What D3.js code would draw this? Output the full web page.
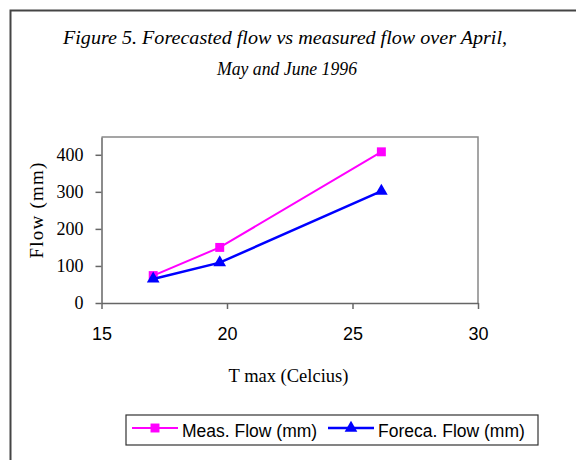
<!DOCTYPE html>
<html>
<head>
<meta charset="utf-8">
<script src="https://cdn.jsdelivr.net/npm/d3@7"></script>
<style>
  html, body { margin: 0; padding: 0; background: #fff; }
  svg { display: block; }
</style>
</head>
<body>
<svg id="chart" width="576" height="460"></svg>
<script>
// Monthly maximum temperature (April, May, June 1996) and flows
const tmax = [17.06, 19.71, 26.15];
const measuredFlow = [74, 150, 408];
const forecastFlow = [65, 109, 302];
const xTicks = [15, 20, 25, 30];
const yTicks = [0, 100, 200, 300, 400];
const titleLines = ["Figure 5. Forecasted flow vs measured flow over April,", "May and June 1996"];
const seriesNames = ["Meas. Flow (mm)", "Foreca. Flow (mm)"];

const svg = d3.select("#chart");
const serif = "Liberation Serif, Times New Roman, serif";
const sans = "Liberation Sans, Arial, sans-serif";

// outer frame
svg.append("rect")
  .attr("x", 10.5).attr("y", 10.5)
  .attr("width", 580).attr("height", 470)
  .attr("fill", "none").attr("stroke", "#444").attr("stroke-width", 2);

// title, two centred lines
const titleX = [285, 287];
const titleY = [44, 75];
const titleLen = [444, 140];
svg.selectAll("text.title").data(titleLines).join("text")
  .attr("class", "title")
  .attr("x", (d, i) => titleX[i]).attr("y", (d, i) => titleY[i])
  .attr("text-anchor", "middle")
  .attr("font-family", serif)
  .attr("font-style", "italic")
  .attr("font-size", 19.5)
  .attr("textLength", (d, i) => titleLen[i])
  .attr("lengthAdjust", "spacingAndGlyphs")
  .text(d => d);

const plot = { left: 101.5, right: 478, top: 137, bottom: 303 };
const x = d3.scaleLinear().domain([15, 30]).range([plot.left, plot.right]);
const y = d3.scaleLinear().domain([0, 448]).range([plot.bottom, plot.top]);

// top and right border of the plot area
svg.append("path")
  .attr("d", `M${plot.left},${plot.top}H${plot.right}V${plot.bottom}`)
  .attr("fill", "none").attr("stroke", "#888").attr("stroke-width", 1.5);

// x axis
const xAxis = svg.append("g")
  .attr("transform", `translate(0,${plot.bottom})`)
  .call(d3.axisBottom(x).tickValues(xTicks).tickSize(6).tickSizeOuter(0).tickPadding(18));
xAxis.select(".domain").attr("stroke", "#666").attr("stroke-width", 1.5);
xAxis.selectAll(".tick line").attr("stroke", "#666").attr("stroke-width", 1.5);
xAxis.selectAll(".tick text")
  .attr("font-family", sans)
  .attr("font-size", 18).attr("fill", "#000");

// y axis
const yAxis = svg.append("g")
  .attr("transform", `translate(${plot.left},0)`)
  .call(d3.axisLeft(y).tickValues(yTicks).tickSize(6).tickSizeOuter(0).tickPadding(12));
yAxis.select(".domain").attr("stroke", "#666").attr("stroke-width", 1.5);
yAxis.selectAll(".tick line").attr("stroke", "#666").attr("stroke-width", 1.5);
yAxis.selectAll(".tick text")
  .attr("font-family", serif)
  .attr("font-size", 18).attr("fill", "#000");

// axis titles
svg.append("text")
  .attr("x", 288.5).attr("y", 382)
  .attr("text-anchor", "middle")
  .attr("font-family", serif)
  .attr("font-size", 18.5)
  .text("T max (Celcius)");

svg.append("text")
  .attr("transform", "translate(43,210) rotate(-90)")
  .attr("text-anchor", "middle")
  .attr("font-family", serif)
  .attr("font-size", 19)
  .attr("letter-spacing", 1.2)
  .text("Flow (mm)");

// series
const series = [
  { name: seriesNames[0], values: measuredFlow, color: "#ff00ff", shape: d3.symbolSquare, size: 80, width: 2 },
  { name: seriesNames[1], values: forecastFlow, color: "#0000ff", shape: d3.symbolTriangle, size: 70, width: 2.5 }
];

const line = d3.line().x(d => x(d[0])).y(d => y(d[1]));

series.forEach(s => {
  const pts = tmax.map((t, i) => [t, s.values[i]]);
  svg.append("path")
    .attr("d", line(pts))
    .attr("fill", "none").attr("stroke", s.color).attr("stroke-width", s.width);
  svg.selectAll(null).data(pts).join("path")
    .attr("transform", d => `translate(${x(d[0])},${y(d[1])})`)
    .attr("d", d3.symbol().type(s.shape).size(s.size))
    .attr("fill", s.color);
});

// legend
svg.append("rect")
  .attr("x", 126).attr("y", 415).attr("width", 412).attr("height", 30)
  .attr("fill", "#fff").attr("stroke", "#333").attr("stroke-width", 1.2);

const legendX = [132, 328];
series.forEach((s, i) => {
  const lx = legendX[i];
  const ly = 428;
  svg.append("line")
    .attr("x1", lx).attr("x2", lx + 46).attr("y1", ly).attr("y2", ly)
    .attr("stroke", s.color).attr("stroke-width", s.width);
  svg.append("path")
    .attr("transform", `translate(${lx + 23},${ly})`)
    .attr("d", d3.symbol().type(s.shape).size(s.size))
    .attr("fill", s.color);
  svg.append("text")
    .attr("x", lx + 50).attr("y", 437)
    .attr("font-family", sans)
    .attr("font-size", 17.5)
    .text(s.name);
});
</script>
</body>
</html>
